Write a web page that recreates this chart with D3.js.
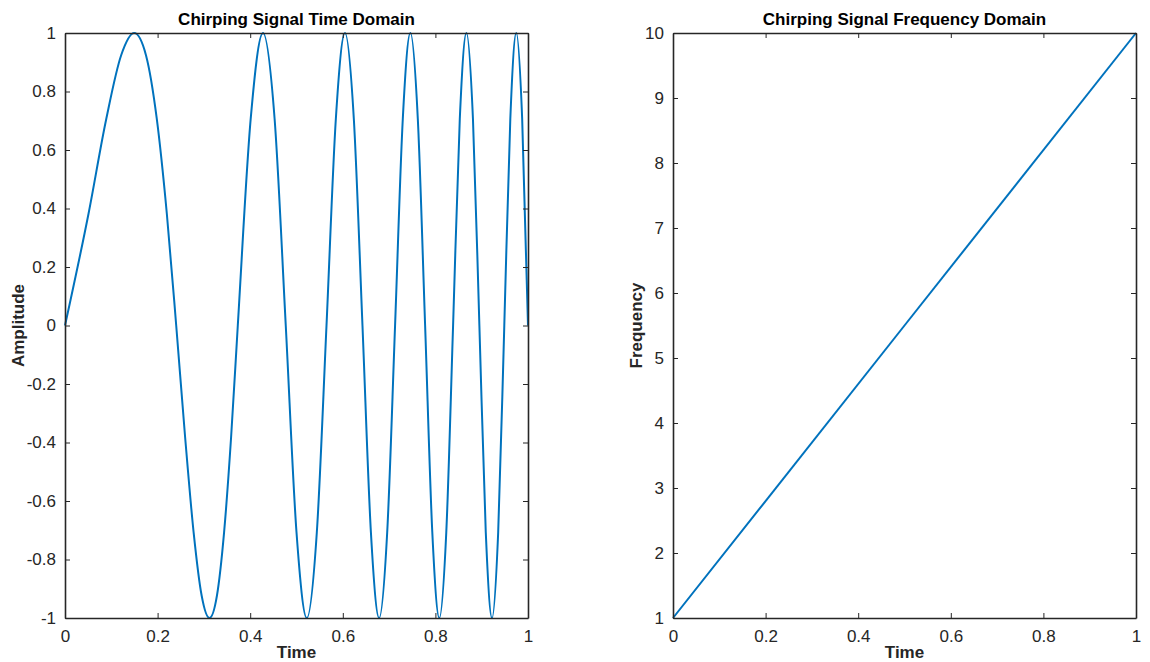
<!DOCTYPE html>
<html>
<head>
<meta charset="utf-8">
<script src="https://cdn.jsdelivr.net/npm/d3@7"></script>
<style>
  body { margin: 0; background: #fff; }
  svg { display: block; font-family: "Liberation Sans", Arial, sans-serif; }
  .axis path, .axis line { stroke: #262626; }
  .axis text { fill: #262626; font-size: 17px; }
</style>
</head>
<body>
<div class="chart-container"></div>
<script>
// chirp, time domain: samples (zero crossings, peaks and points between)
const timeSamples = [
  0, 0.0509, 0.0892, 0.1213, 0.1495, 0.1749, 0.1982, 0.2199, 0.2402,
  0.2595, 0.2778, 0.2952, 0.3120, 0.3281, 0.3436, 0.3587, 0.3732,
  0.4011, 0.4276, 0.4527, 0.4768, 0.5000, 0.5223, 0.5439, 0.5648,
  0.5850, 0.6047, 0.6238, 0.6425, 0.6607, 0.6785, 0.6959, 0.7129,
  0.7296, 0.7460, 0.7620, 0.7778, 0.7933, 0.8085, 0.8235, 0.8382,
  0.8527, 0.8670, 0.8811, 0.8950, 0.9088, 0.9223, 0.9356, 0.9488,
  0.9618, 0.9747, 0.9874, 1.0
];
const amplitudeSamples = [
  0, 0.383, 0.707, 0.924, 1, 0.924, 0.707, 0.383, 0,
  -0.383, -0.707, -0.924, -1, -0.924, -0.707, -0.383, 0,
  0.707, 1, 0.707, 0, -0.707, -1, -0.707, 0,
  0.707, 1, 0.707, 0, -0.707, -1, -0.707, 0,
  0.707, 1, 0.707, 0, -0.707, -1, -0.707, 0,
  0.707, 1, 0.707, 0, -0.707, -1, -0.707, 0,
  0.707, 1, 0.707, 0
];

// chirp, instantaneous frequency
const freqTimes = [0, 0.5, 1];
const freqValues = [1, 5.5, 10];

const timeTicks = [0, 0.2, 0.4, 0.6, 0.8, 1];
const amplitudeTicks = [-1, -0.8, -0.6, -0.4, -0.2, 0, 0.2, 0.4, 0.6, 0.8, 1];
const frequencyTicks = [1, 2, 3, 4, 5, 6, 7, 8, 9, 10];

const lineColor = '#0072BD';

function build_svg(width, height) {
   return d3.select('.chart-container')
      .append('svg')
      .attr('width', width)
      .attr('height', height);
}

function draw_panel(svg, opts) {
   const {left, top, width, height} = opts;
   const x = d3.scaleLinear().domain([0, 1]).range([0, width]);
   const y = d3.scaleLinear().domain(opts.yDomain).range([height, 0]);

   const g = svg.append('g').attr('transform', `translate(${left}, ${top})`);

   // data line
   const pts = opts.xs.map((d, i) => [d, opts.ys[i]]);
   g.append('path')
      .datum(pts)
      .attr('fill', 'none')
      .attr('stroke', lineColor)
      .attr('stroke-width', 2)
      .attr('d', d3.line().x(d => x(d[0])).y(d => y(d[1])).curve(opts.curve));

   const fmt = d => String(+d.toFixed(1));

   // bottom / left axes with labels, ticks pointing in
   g.append('g').attr('class', 'axis')
      .attr('transform', `translate(0, ${height})`)
      .call(d3.axisBottom(x).tickValues(timeTicks).tickFormat(fmt).tickSizeInner(-5).tickSizeOuter(0).tickPadding(12))
      .call(a => a.select('.domain').attr('stroke-width', 1.6));
   g.append('g').attr('class', 'axis')
      .call(d3.axisLeft(y).tickValues(opts.yTicks).tickFormat(fmt).tickSizeInner(-5).tickSizeOuter(0).tickPadding(9))
      .call(a => a.select('.domain').attr('stroke-width', 1.6));
   // top / right: ticks only
   g.append('g').attr('class', 'axis')
      .call(d3.axisTop(x).tickValues(timeTicks).tickFormat('').tickSizeInner(-5).tickSizeOuter(0))
      .call(a => a.select('.domain').attr('stroke-width', 1.6));
   g.append('g').attr('class', 'axis')
      .attr('transform', `translate(${width}, 0)`)
      .call(d3.axisRight(y).tickValues(opts.yTicks).tickFormat('').tickSizeInner(-5).tickSizeOuter(0))
      .call(a => a.select('.domain').attr('stroke-width', 1.6));

   g.append('text')
      .attr('x', width / 2).attr('y', -8)
      .attr('text-anchor', 'middle')
      .attr('font-weight', 'bold').attr('font-size', 17).attr('fill', '#000')
      .text(opts.title);
   g.append('text')
      .attr('x', width / 2).attr('y', height + 40)
      .attr('text-anchor', 'middle')
      .attr('font-weight', 'bold').attr('font-size', 17).attr('fill', '#262626')
      .text('Time');
   g.append('text')
      .attr('transform', `translate(${opts.ylabelX}, ${height / 2}) rotate(-90)`)
      .attr('text-anchor', 'middle')
      .attr('font-weight', 'bold').attr('font-size', 17).attr('fill', '#262626')
      .text(opts.ylabel);
}

function build_chart() {
   const svg = build_svg(1150, 662);

   draw_panel(svg, {
      left: 65, top: 33, width: 463, height: 585,
      xs: timeSamples, ys: amplitudeSamples, yDomain: [-1, 1], yTicks: amplitudeTicks,
      curve: d3.curveMonotoneX,
      title: 'Chirping Signal Time Domain', ylabel: 'Amplitude', ylabelX: -41
   });

   draw_panel(svg, {
      left: 673, top: 33, width: 463, height: 585,
      xs: freqTimes, ys: freqValues, yDomain: [1, 10], yTicks: frequencyTicks,
      curve: d3.curveLinear,
      title: 'Chirping Signal Frequency Domain', ylabel: 'Frequency', ylabelX: -31
   });
}

build_chart();
</script>
</body>
</html>
